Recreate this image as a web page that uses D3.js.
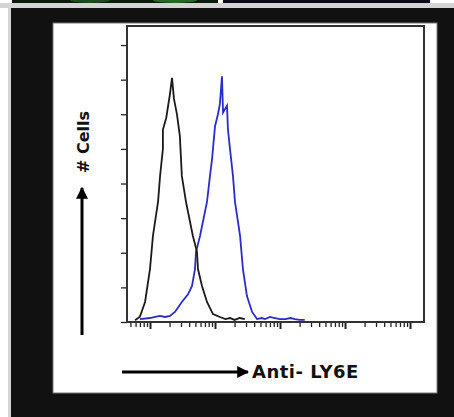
<!DOCTYPE html>
<html>
<head>
<meta charset="utf-8">
<script src="https://cdn.jsdelivr.net/npm/d3@7/dist/d3.min.js"></script>
<style>
  body { margin: 0; background: #fff; }
  svg { display: block; }
</style>
</head>
<body>
<svg id="main"></svg>
<script>
// isotype control (black) : fluorescence intensity / cell count
var controlX = [0.59, 0.70, 0.84, 1.0, 1.11, 1.33, 1.43, 1.58, 1.58, 1.78, 2.03, 2.18, 2.34, 2.60, 2.88, 3.09, 3.58, 4.57, 5.28, 5.47, 6.31, 7.53, 9.31, 11.9, 14.5, 17, 20, 24, 28.8];
var controlY = [1, 3, 11.6, 30.6, 49.7, 69.4, 84.4, 100, 111, 118, 131.8, 141, 128.9, 120, 107.5, 84.4, 69.4, 49.7, 40.5, 30.6, 20.8, 11.6, 4.6, 2.9, 1.7, 2.3, 1.2, 2.3, 1.7];

// anti-LY6E (blue)
var ly6eX = [0.70, 1.0, 1.2, 1.43, 1.7, 2.03, 2.42, 3.09, 3.84, 4.43, 4.92, 5.1, 5.88, 7.53, 8.37, 9.0, 10.0, 11.1, 11.9, 12.8, 13.3, 15.3, 15.8, 17, 18.9, 20.3, 24.3, 26.9, 31, 37.2, 44.3, 52, 58.9, 70, 83.7, 100, 120, 145, 170, 200, 240];
var ly6eY = [1.7, 2.3, 2.9, 3.5, 2.9, 3.5, 5.8, 11.6, 16, 20.8, 30.6, 40.5, 49.7, 69.4, 84.4, 94, 113, 120, 126, 142, 121, 125, 111.5, 100, 84.4, 69.4, 49.7, 30.6, 15, 5.8, 1.7, 2.3, 1.7, 2.9, 2.3, 1.7, 1.7, 2.3, 1.7, 1.2, 1.2];

var yTicks = [0, 20, 40, 60, 80, 100, 120, 140, 160];
var xDecades = [1, 10, 100, 1000, 10000];
var yLabel = "# Cells";
var xLabel = "Anti- LY6E";

var w = 454;
var h = 417;

var svg = d3.select("#main")
  .attr("width", w)
  .attr("height", h);

// page furniture: strip of another figure on top, black mount, white card
svg.append("rect").attr("x", 0).attr("y", 0).attr("width", w).attr("height", h).attr("fill", "#fff");
svg.append("rect").attr("x", 12).attr("y", 0).attr("width", 206).attr("height", 3).attr("fill", "#0c1a0c");
svg.append("ellipse").attr("cx", 90).attr("cy", 0).attr("rx", 20).attr("ry", 3).attr("fill", "#1c4a1c");
svg.append("ellipse").attr("cx", 175).attr("cy", 0).attr("rx", 22).attr("ry", 3).attr("fill", "#246a24");
svg.append("rect").attr("x", 223).attr("y", 0).attr("width", 207).attr("height", 3).attr("fill", "#0a0a1e");
svg.append("rect").attr("x", 0).attr("y", 3).attr("width", w).attr("height", 5).attr("fill", "#d4d4d4");
svg.append("rect").attr("x", 8).attr("y", 8).attr("width", 3).attr("height", h - 8).attr("fill", "#d4d4d4");
svg.append("rect").attr("x", 11).attr("y", 8).attr("width", w - 11).attr("height", h - 8).attr("fill", "#111");
svg.append("rect").attr("x", 53).attr("y", 23).attr("width", 384).attr("height", 370)
  .attr("fill", "#fff").attr("stroke", "#777").attr("stroke-width", 1);

// plot area
var padLeft = 127, padRight = 424, padTop = 26, padBottom = 322;

var x = d3.scaleLog()
  .domain([0.443, 16400])
  .range([padLeft, padRight]);

var y = d3.scaleLinear()
  .domain([0, 171])
  .range([padBottom, padTop]);

// minor + major log ticks
var minor = [];
[0.1, 1, 10, 100, 1000].forEach(function(d) {
  for (var k = 2; k <= 9; k++) {
    var v = d * k;
    if (v > x.domain()[0] && v < x.domain()[1]) minor.push(v);
  }
});

var xMinor = d3.axisBottom(x).tickValues(minor).tickSize(5).tickFormat("");
var xMajor = d3.axisBottom(x).tickValues(xDecades).tickSize(7).tickFormat("");
var yAxis = d3.axisLeft(y).tickValues(yTicks).tickSize(6).tickFormat("");

var gxm = svg.append("g")
  .attr("transform", "translate(0," + padBottom + ")")
  .call(xMinor);
var gxM = svg.append("g")
  .attr("transform", "translate(0," + padBottom + ")")
  .call(xMajor);
var gy = svg.append("g")
  .attr("transform", "translate(" + padLeft + ",0)")
  .call(yAxis);

[gxm, gxM, gy].forEach(function(g) {
  g.select(".domain").remove();
  g.selectAll("line").attr("stroke", "#222").attr("stroke-width", 1.3);
});
gxM.selectAll("line").attr("stroke-width", 2);

// frame
svg.append("rect")
  .attr("x", padLeft).attr("y", padTop)
  .attr("width", padRight - padLeft).attr("height", padBottom - padTop)
  .attr("fill", "none")
  .attr("stroke", "#333")
  .attr("stroke-width", 2);

var line = d3.line()
  .x(function(d) { return x(d[0]); })
  .y(function(d) { return y(d[1]); });

var controlData = controlX.map(function(v, i) { return [v, controlY[i]]; });
var ly6eData = ly6eX.map(function(v, i) { return [v, ly6eY[i]]; });

svg.append("path")
  .datum(ly6eData)
  .attr("d", line)
  .attr("fill", "none")
  .attr("stroke", "#2b2bc8")
  .attr("stroke-width", 1.8);

svg.append("path")
  .datum(controlData)
  .attr("d", line)
  .attr("fill", "none")
  .attr("stroke", "#1a1a1a")
  .attr("stroke-width", 1.8);

// axis labels with arrows
svg.append("defs").append("marker")
  .attr("id", "head")
  .attr("viewBox", "0 0 10 10")
  .attr("refX", 9).attr("refY", 5)
  .attr("markerWidth", 4).attr("markerHeight", 4)
  .attr("orient", "auto")
  .append("path")
  .attr("d", "M0,0 L10,5 L0,10 z")
  .attr("fill", "#000");

svg.append("line")
  .attr("x1", 82).attr("y1", 335)
  .attr("x2", 82).attr("y2", 188)
  .attr("stroke", "#000").attr("stroke-width", 3)
  .attr("marker-end", "url(#head)");

svg.append("text")
  .attr("transform", "translate(89,142) rotate(-90)")
  .attr("text-anchor", "middle")
  .attr("font-family", "DejaVu Sans, sans-serif")
  .attr("font-weight", "bold")
  .attr("font-size", 16)
  .attr("fill", "#111")
  .text(yLabel);

svg.append("line")
  .attr("x1", 122).attr("y1", 372)
  .attr("x2", 248).attr("y2", 372)
  .attr("stroke", "#000").attr("stroke-width", 3)
  .attr("marker-end", "url(#head)");

svg.append("text")
  .attr("x", 252).attr("y", 378)
  .attr("font-family", "DejaVu Sans, sans-serif")
  .attr("font-weight", "bold")
  .attr("font-size", 18)
  .attr("letter-spacing", 0.5)
  .attr("fill", "#111")
  .text(xLabel);
</script>
</body>
</html>
